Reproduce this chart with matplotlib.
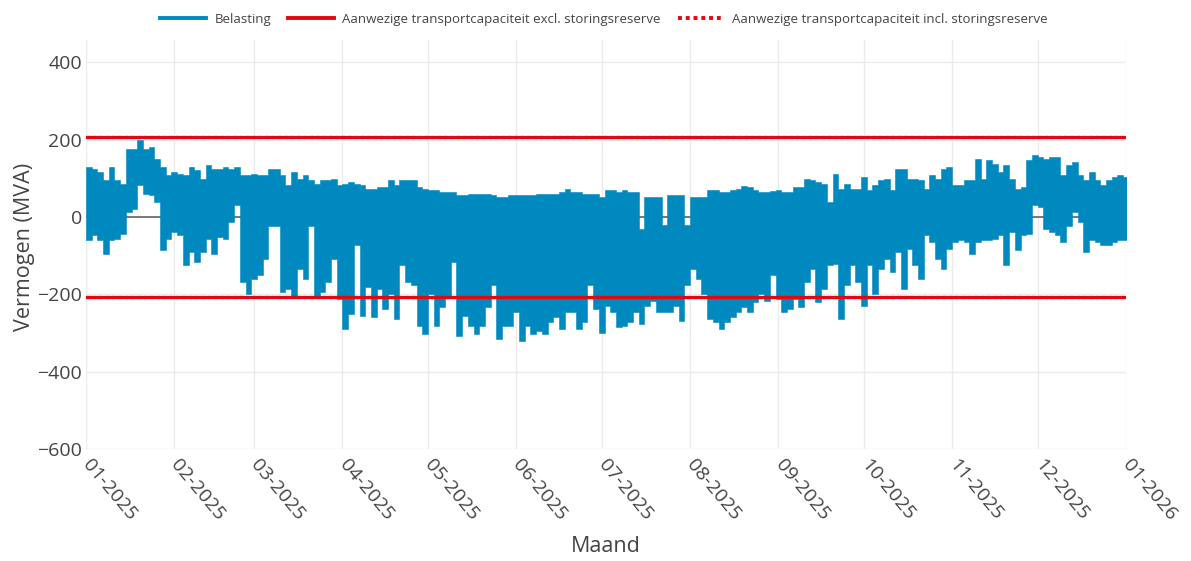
import numpy as np
import matplotlib
matplotlib.use("Agg")
import matplotlib.pyplot as plt
import matplotlib.dates as mdates
from matplotlib.lines import Line2D

# ---------------- data ----------------
# Belasting: per 2-day period, the highest and lowest load (MVA)
belasting_max = [
    130, 125, 117, 95, 130, 95, 86, 177, 177, 199,
    177, 181, 151, 130, 108, 117, 112, 108, 130, 121,
    99, 134, 125, 125, 130, 125, 130, 108, 108, 112,
    108, 108, 125, 125, 108, 82, 117, 99, 108, 95,
    86, 95, 95, 99, 82, 86, 91, 86, 82, 73,
    73, 78, 78, 95, 82, 95, 95, 95, 78, 73,
    70, 69, 65, 65, 65, 56, 56, 60, 60, 60,
    60, 56, 52, 52, 56, 56, 56, 56, 56, 60,
    60, 60, 60, 65, 73, 65, 65, 60, 60, 60,
    52, 69, 69, 65, 69, 65, 65, -30, 52, 52,
    52, -20, 56, 56, 56, -20, 52, 52, 52, 69,
    69, 65, 65, 69, 73, 80, 78, 69, 65, 65,
    67, 69, 65, 65, 78, 78, 98, 95, 91, 86,
    39, 112, 73, 86, 73, 73, 104, 69, 82, 95,
    99, 69, 125, 125, 99, 99, 95, 73, 108, 99,
    125, 130, 82, 82, 95, 95, 151, 99, 147, 138,
    117, 134, 99, 73, 78, 147, 160, 155, 151, 155,
    155, 108, 134, 142, 108, 95, 117, 95, 82, 95,
    104, 108, 104,
]
belasting_min = [
    -60, -47, -60, -95, -60, -56, -43, 13, 22, 82,
    60, 56, 39, -86, -56, -39, -47, -125, -91, -117,
    -91, -56, -95, -52, -56, -13, 30, -168, -199, -160,
    -150, -108, -22, -22, -194, -186, -203, -134, -160, -22,
    -207, -194, -168, -108, -212, -289, -250, -73, -255, -181,
    -259, -186, -237, -199, -263, -125, -168, -177, -281, -302,
    -200, -281, -233, -207, -117, -307, -255, -281, -302, -281,
    -233, -177, -315, -281, -281, -246, -320, -281, -302, -294,
    -302, -272, -259, -289, -246, -246, -289, -272, -177, -237,
    -300, -229, -246, -285, -281, -272, -246, -276, -229, -216,
    -246, -246, -246, -229, -268, -177, -134, -160, -199, -263,
    -272, -289, -272, -259, -246, -233, -246, -220, -199, -216,
    -150, -212, -246, -237, -212, -233, -168, -134, -220, -186,
    -125, -121, -263, -177, -125, -168, -229, -125, -199, -134,
    -108, -142, -91, -186, -82, -125, -160, -47, -65, -108,
    -134, -82, -65, -60, -65, -95, -65, -60, -60, -56,
    -47, -125, -39, -86, -47, -43, 30, 26, -30, -39,
    -47, -65, -22, 13, -13, -91, -60, -65, -73, -73,
    -65, -60, -60,
]
period_days = 2
start_date = "2025-01-01"
end_date = "2026-01-01"

capaciteit_excl = [207, -207]   # transportcapaciteit excl. storingsreserve
capaciteit_incl = [207, -207]   # transportcapaciteit incl. storingsreserve

y_ticks = [-600, -400, -200, 0, 200, 400]

legend_labels = ["Belasting",
                 "Aanwezige transportcapaciteit excl. storingsreserve",
                 "Aanwezige transportcapaciteit incl. storingsreserve"]

# ---------------- styling ----------------
plt.rcParams["font.family"] = ["Open Sans", "DejaVu Sans"]
BLUE = "#0089BF"
RED = "#E30613"
TXT = "#444444"
GRID = "#EBEBEB"

W, H = 1191, 561
fig = plt.figure(figsize=(W / 100, H / 100), dpi=100)
ax = fig.add_axes([86 / W, 1 - 449 / H, 1040 / W, 409 / H])

t0 = np.datetime64(start_date)
t_end = np.datetime64(end_date)
n = len(belasting_max)
edges = t0 + np.arange(n + 1) * np.timedelta64(period_days, "D")
hi = np.append(belasting_max, belasting_max[-1])
lo = np.append(belasting_min, belasting_min[-1])

ax.axhline(0, color="#555555", lw=1.1, zorder=2)
ax.fill_between(edges, lo, hi, step="post", facecolor=BLUE,
                edgecolor=BLUE, lw=0.4, zorder=3)

for v in capaciteit_incl:
    ax.plot([t0, t_end], [v, v], color=RED, lw=2.3, ls=(0, (1, 1)), zorder=4)
for v in capaciteit_excl:
    ax.plot([t0, t_end], [v, v], color=RED, lw=2.3, zorder=5)

ax.set_xlim(t0, t_end)
ax.set_ylim(-600, 458)

months = np.arange(np.datetime64("2025-01"), np.datetime64("2026-02"),
                   dtype="datetime64[M]").astype("datetime64[D]")
ax.set_xticks(months)
ax.xaxis.set_major_formatter(mdates.DateFormatter("%m-%Y"))
ax.set_yticks(y_ticks)

ax.grid(True, color=GRID, lw=1.0, zorder=0)
ax.set_axisbelow(True)
for s in ax.spines.values():
    s.set_visible(False)
ax.tick_params(axis="both", length=0, labelsize=14, labelcolor=TXT)
ax.tick_params(axis="y", pad=3)
ax.tick_params(axis="x", pad=9)
for lab in ax.get_xticklabels():
    lab.set_rotation(-50)
    lab.set_ha("left")
    lab.set_va("center")
    lab.set_rotation_mode("anchor")

fig.text(606 / W, 1 - 547 / H, "Maand", ha="center", va="center",
         fontsize=15.5, color=TXT)
fig.text(25 / W, 1 - 247 / H, "Vermogen (MVA)", ha="center", va="center",
         rotation=90, fontsize=15.5, color=TXT)

handles = [Line2D([], [], color=BLUE, lw=2.8),
           Line2D([], [], color=RED, lw=2.8),
           Line2D([], [], color=RED, lw=2.8, ls=(0, (1, 1)))]
leg = fig.legend(handles, legend_labels, loc="center",
                 bbox_to_anchor=(604 / W, 1 - 19 / H), ncol=3, frameon=False,
                 fontsize=9.5, handlelength=3.5, handletextpad=0.6,
                 columnspacing=1.3, labelcolor=TXT)

fig.savefig("out.png", dpi=100)
